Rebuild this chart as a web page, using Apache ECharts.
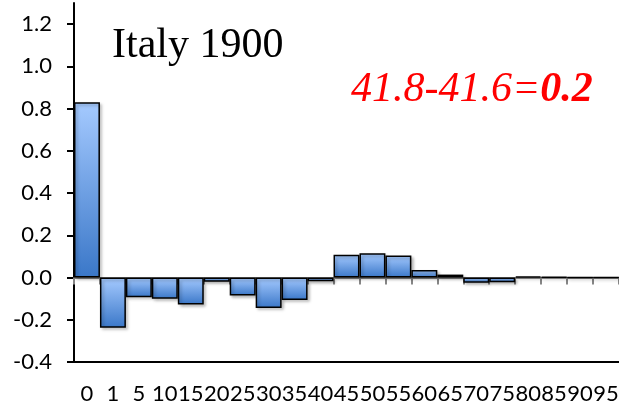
<!DOCTYPE html>
<html lang="en">
<head>
    <meta charset="UTF-8">
    <title>Italy 1900</title>
    <script src="https://cdn.jsdelivr.net/npm/echarts@6.0.0/dist/echarts.min.js"></script>
    <style>
        html, body { margin: 0; padding: 0; background: #fff; }
    </style>
</head>
<body>
    <div id="myChart" style="width: 619px; height: 404px;"></div>
    <script>
        // 年龄组
        var ages = ['0', '1', '5', '10', '15', '20', '25', '30', '35', '40', '45',
                    '50', '55', '60', '65', '70', '75', '80', '85', '90', '95'];
        // 差值
        var diffs = [0.83, -0.238, -0.093, -0.10, -0.128, -0.02, -0.085, -0.144, -0.106, -0.018, 0.108,
                     0.115, 0.104, 0.036, 0.014, -0.025, -0.022, 0.005, 0.003, 0.001, 0.001];
        // y轴刻度
        var yTicks = [-0.4, -0.2, 0.0, 0.2, 0.4, 0.6, 0.8, 1.0, 1.2];

        var titleText = 'Italy 1900';
        var formulaText = '41.8-41.6=';
        var resultText = '0.2';

        var myChart = echarts.init(document.getElementById('myChart'));

        var barFill = new echarts.graphic.LinearGradient(0, 0, 0, 1, [
            { offset: 0, color: '#a5caff' },
            { offset: 1, color: '#3a77c8' }
        ]);

        var option = {
            animation: false,
            title: [
                {
                    text: titleText,
                    left: 107,
                    top: 20,
                    textStyle: { fontFamily: 'Liberation Serif', fontWeight: 'normal', fontSize: 42, color: '#000' }
                },
                {
                    text: '{a|' + formulaText + '}{b|' + resultText + '}',
                    left: 346,
                    top: 64,
                    textStyle: {
                        fontWeight: 'normal',
                        rich: {
                            a: { fontFamily: 'Liberation Serif', fontStyle: 'italic', fontWeight: 'normal', fontSize: 42, color: '#ff0000' },
                            b: { fontFamily: 'Liberation Serif', fontStyle: 'italic', fontWeight: 'bold', fontSize: 42, color: '#ff0000' }
                        }
                    }
                }
            ],
            grid: { left: 74, right: 0, top: 3, bottom: 42, outerBoundsMode: 'none' },
            xAxis: [
                {
                    type: 'category',
                    data: ages,
                    position: 'bottom',
                    axisLine: { onZero: false, lineStyle: { color: '#000', width: 2 } },
                    axisTick: { show: false },
                    axisLabel: {
                        interval: 0,
                        margin: 21,
                        fontFamily: 'Lato',
                        fontSize: 22,
                        color: '#000'
                    }
                },
                {
                    type: 'category',
                    data: ages,
                    position: 'bottom',
                    axisLine: { onZero: true, lineStyle: { color: '#868686', width: 2 } },
                    axisTick: { show: true, length: 7, lineStyle: { color: '#868686', width: 2 } },
                    axisLabel: { show: false }
                }
            ],
            yAxis: {
                type: 'value',
                min: -0.4,
                max: 1.3,
                splitLine: { show: false },
                axisLine: { show: true, lineStyle: { color: '#000', width: 2 } },
                axisTick: { show: true, length: 7, customValues: yTicks, lineStyle: { color: '#000', width: 2 } },
                axisLabel: {
                    customValues: yTicks,
                    margin: 22,
                    fontFamily: 'Lato',
                    fontSize: 22,
                    color: '#000',
                    formatter: function (v) { return v.toFixed(1); }
                }
            },
            series: [
                {
                    type: 'bar',
                    xAxisIndex: 0,
                    data: diffs,
                    barCategoryGap: '0%',
                    itemStyle: {
                        color: barFill,
                        borderColor: '#000',
                        borderWidth: 1.5,
                        shadowColor: 'rgba(0,0,0,0.25)',
                        shadowBlur: 3,
                        shadowOffsetX: 2,
                        shadowOffsetY: 2
                    }
                }
            ]
        };

        myChart.setOption(option);
    </script>
</body>
</html>
